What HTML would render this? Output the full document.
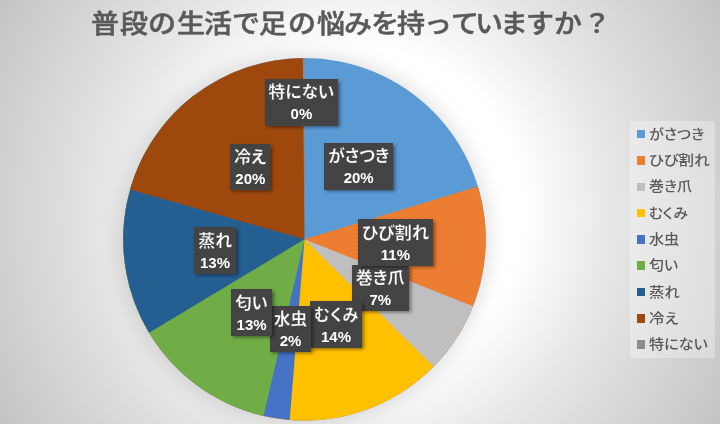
<!DOCTYPE html>
<html lang="ja"><head><meta charset="utf-8"><title>普段の生活で足の悩みを持っていますか？</title>
<style>
html,body{margin:0;padding:0}
body{width:720px;height:424px;overflow:hidden;position:relative;font-family:"Liberation Sans","Noto Sans CJK JP",sans-serif;
background:radial-gradient(circle 418px at 360px 212px,#ffffff 0%,#ffffff 39%,#e7e7e7 60%,#c4c4c4 100%);}
#title{position:absolute;left:0;top:4.2px;width:720px;height:40px;line-height:40px;font-size:25.6px;font-weight:500;-webkit-text-stroke:0.5px #595959;color:#595959;white-space:nowrap}
#title span{position:absolute;top:0;width:40px;height:40px;text-align:center;transform:scaleX(1.094)}
#pie{position:absolute;left:0;top:0;filter:drop-shadow(0 0 11px rgba(0,0,0,.16))}
.lb{position:absolute;box-sizing:border-box;color:#fff;text-align:center;font-weight:700;
background-color:#404040;
background-image:radial-gradient(circle at 1px 1px,#4c4c4c 0,#4c4c4c 0.3px,rgba(76,76,76,0) 1.2px),radial-gradient(circle at 3px 3px,#4c4c4c 0,#4c4c4c 0.3px,rgba(76,76,76,0) 1.2px);
background-size:4px 4px;
box-shadow:2px 2.3px 3.5px rgba(0,0,0,.45)}
.lb .n{position:absolute;left:-10px;right:-10px;top:3.6px;height:20px;line-height:20px;font-size:16.5px;-webkit-text-stroke:0.25px #404040;font-feature-settings:"palt";white-space:nowrap}
.lb .p{position:absolute;left:-10px;right:-10px;top:26.5px;height:18px;line-height:18px;font-size:15.3px;transform:scaleX(.98);white-space:nowrap}
#legend{position:absolute;left:629.8px;top:121px;width:85.3px;height:236.8px;background:rgba(255,255,255,.3)}
.li{position:absolute;left:0;height:26.3px;width:86px}
.li i{position:absolute;left:6.9px;top:8.9px;width:8.6px;height:8.6px}
.li span{position:absolute;left:19.3px;top:-0.4px;height:26.3px;line-height:26.3px;font-size:14px;font-weight:500;transform-origin:0 50%;color:#595959;white-space:nowrap;font-feature-settings:"palt"}
</style></head><body>
<div id="title"><span style="left:85.15px">普</span><span style="left:113.85px">段</span><span style="left:142.05px">の</span><span style="left:170.90px">生</span><span style="left:198.10px">活</span><span style="left:225.85px">で</span><span style="left:253.35px">足</span><span style="left:281.80px">の</span><span style="left:311.25px">悩</span><span style="left:338.35px">み</span><span style="left:365.00px">を</span><span style="left:390.90px">持</span><span style="left:417.80px">っ</span><span style="left:444.80px">て</span><span style="left:468.90px">い</span><span style="left:494.00px">ま</span><span style="left:519.55px">す</span><span style="left:547.70px">か</span><span style="left:576.50px">？</span></div>
<svg id="pie" width="720" height="424" viewBox="0 0 720 424">
<circle cx="304.5" cy="239.3" r="181.3" fill="#5B9BD5"/>
<path d="M304.5 239.3L477.92 186.42A181.3 181.3 0 1 1 194.62 95.09Z" fill="#ED7D31"/>
<path d="M304.5 239.3L473.01 306.19A181.3 181.3 0 1 1 194.62 95.09Z" fill="#BFBFBF"/>
<path d="M304.5 239.3L433.57 366.62A181.3 181.3 0 1 1 194.62 95.09Z" fill="#FFC000"/>
<path d="M304.5 239.3L289.66 419.99A181.3 181.3 0 0 1 194.62 95.09Z" fill="#4472C4"/>
<path d="M304.5 239.3L263.58 415.92A181.3 181.3 0 0 1 194.62 95.09Z" fill="#70AD47"/>
<path d="M304.5 239.3L149.17 332.79A181.3 181.3 0 0 1 194.62 95.09Z" fill="#255E91"/>
<path d="M304.5 239.3L130.15 189.59A181.3 181.3 0 0 1 303.67 58.00Z" fill="#9E480E"/>
<path d="M304.5 239.3L302.85 58.01A181.3 181.3 0 0 1 304.50 58.00Z" fill="#8C8C8C"/>
</svg>
<div class="lb" style="z-index:1;left:323.8px;top:142.8px;width:69.4px;height:46.9px"><span class="n" style="transform:scaleX(1.005)">がさつき</span><span class="p">20%</span></div>
<div class="lb" style="z-index:2;left:357.8px;top:219.0px;width:74.9px;height:46.7px"><span class="n" style="transform:scaleX(1.038)">ひび割れ</span><span class="p">11%</span></div>
<div class="lb" style="z-index:1;left:352.4px;top:264.8px;width:56.5px;height:46.6px"><span class="n" style="transform:scaleX(1.036)">巻き爪</span><span class="p">7%</span></div>
<div class="lb" style="z-index:2;left:310.1px;top:301.1px;width:52.0px;height:46.6px"><span class="n" style="transform:scaleX(0.977)">むくみ</span><span class="p">14%</span></div>
<div class="lb" style="z-index:3;left:270.3px;top:305.7px;width:41.0px;height:46.6px"><span class="n" style="transform:scaleX(1.011)">水虫</span><span class="p">2%</span></div>
<div class="lb" style="z-index:4;left:230.8px;top:289.2px;width:41.2px;height:46.6px"><span class="n" style="transform:scaleX(0.999)">匂い</span><span class="p">13%</span></div>
<div class="lb" style="z-index:1;left:193.8px;top:227.4px;width:42.0px;height:46.8px"><span class="n" style="transform:scaleX(1.021)">蒸れ</span><span class="p">13%</span></div>
<div class="lb" style="z-index:1;left:229.6px;top:143.8px;width:40.6px;height:46.7px"><span class="n" style="transform:scaleX(1.034)">冷え</span><span class="p">20%</span></div>
<div class="lb" style="z-index:1;left:265.1px;top:78.8px;width:72.8px;height:47.1px"><span class="n" style="transform:scaleX(1.012)">特にない</span><span class="p">0%</span></div>
<div id="legend">
<div class="li" style="top:0.00px"><i style="background:#5B9BD5"></i><span style="transform:scaleX(1.072)">がさつき</span></div>
<div class="li" style="top:26.32px"><i style="background:#ED7D31"></i><span style="transform:scaleX(1.107)">ひび割れ</span></div>
<div class="li" style="top:52.64px"><i style="background:#BFBFBF"></i><span style="transform:scaleX(1.066)">巻き爪</span></div>
<div class="li" style="top:78.96px"><i style="background:#FFC000"></i><span style="transform:scaleX(1.042)">むくみ</span></div>
<div class="li" style="top:105.28px"><i style="background:#4472C4"></i><span style="transform:scaleX(1.078)">水虫</span></div>
<div class="li" style="top:131.60px"><i style="background:#70AD47"></i><span style="transform:scaleX(1.066)">匂い</span></div>
<div class="li" style="top:157.92px"><i style="background:#255E91"></i><span style="transform:scaleX(1.090)">蒸れ</span></div>
<div class="li" style="top:184.24px"><i style="background:#9E480E"></i><span style="transform:scaleX(1.103)">冷え</span></div>
<div class="li" style="top:210.56px"><i style="background:#8C8C8C"></i><span style="transform:scaleX(1.079)">特にない</span></div>
</div>
</body></html>
